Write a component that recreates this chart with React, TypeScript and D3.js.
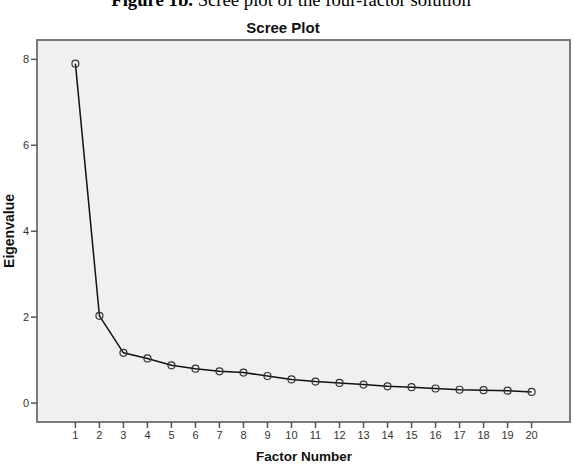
import * as d3 from "d3";

// Eigenvalues per factor
const factors = [1, 2, 3, 4, 5, 6, 7, 8, 9, 10, 11, 12, 13, 14, 15, 16, 17, 18, 19, 20];
const eigenvalues = [
  7.9, 2.03, 1.17, 1.04, 0.88, 0.8, 0.74, 0.71, 0.63, 0.55,
  0.5, 0.47, 0.43, 0.39, 0.37, 0.34, 0.31, 0.3, 0.29, 0.26,
];
const yTicks = [0, 2, 4, 6, 8];

const W = 574;
const H = 470;
const plot = { left: 37, right: 570, top: 40, bottom: 422 };

export default function App() {
  const x = d3.scaleLinear().domain([-0.6, 21.6]).range([plot.left, plot.right]);
  const y = d3.scaleLinear().domain([-0.44, 8.45]).range([plot.bottom, plot.top]);

  const points = factors.map((f, i) => ({ f, v: eigenvalues[i] }));
  const line = d3
    .line<{ f: number; v: number }>()
    .x((d) => x(d.f))
    .y((d) => y(d.v));

  const sans = "Arial, 'Liberation Sans', sans-serif";

  return (
    <svg
      width={W}
      height={H}
      style={{ position: "absolute", left: 0, top: 0, background: "#fff" }}
    >
      {/* caption, cut off at top like the scanned figure */}
      <text
        x={291}
        y={6}
        textAnchor="middle"
        fontFamily="'Times New Roman', 'Liberation Serif', serif"
        fontSize={18.7}
        fill="#000"
      >
        <tspan fontWeight="bold">Figure 1b.</tspan> Scree plot of the four-factor solution
      </text>

      <text
        x={283}
        y={33}
        textAnchor="middle"
        fontFamily={sans}
        fontSize={15}
        fontWeight="bold"
        fill="#111"
      >
        Scree Plot
      </text>

      {/* plot frame */}
      <rect
        x={plot.left}
        y={plot.top}
        width={plot.right - plot.left}
        height={plot.bottom - plot.top}
        fill="#f0f0f0"
        stroke="#7a7a7a"
        strokeWidth={2}
      />

      {/* y axis */}
      {yTicks.map((t) => (
        <g key={t}>
          <line x1={31} x2={plot.left} y1={y(t)} y2={y(t)} stroke="#555" strokeWidth={1.5} />
          <text
            x={29}
            y={y(t) + 4}
            textAnchor="end"
            fontFamily={sans}
            fontSize={11}
            fill="#333"
          >
            {t}
          </text>
        </g>
      ))}

      {/* x axis */}
      {factors.map((f) => (
        <g key={f}>
          <line x1={x(f)} x2={x(f)} y1={plot.bottom} y2={plot.bottom + 6} stroke="#555" strokeWidth={1.5} />
          <text
            x={x(f)}
            y={439}
            textAnchor="middle"
            fontFamily={sans}
            fontSize={11}
            fill="#333"
          >
            {f}
          </text>
        </g>
      ))}

      <path d={line(points) || ""} fill="none" stroke="#111" strokeWidth={1.5} />
      {points.map((d) => (
        <circle
          key={d.f}
          cx={x(d.f)}
          cy={y(d.v)}
          r={3.5}
          fill="none"
          stroke="#333"
          strokeWidth={1.2}
        />
      ))}

      <text
        x={304}
        y={461}
        textAnchor="middle"
        fontFamily={sans}
        fontSize={13.5}
        fontWeight="bold"
        fill="#111"
      >
        Factor Number
      </text>
      <text
        transform={`translate(14,${(plot.top + plot.bottom) / 2}) rotate(-90)`}
        textAnchor="middle"
        fontFamily={sans}
        fontSize={14}
        fontWeight="bold"
        fill="#111"
      >
        Eigenvalue
      </text>
    </svg>
  );
}
